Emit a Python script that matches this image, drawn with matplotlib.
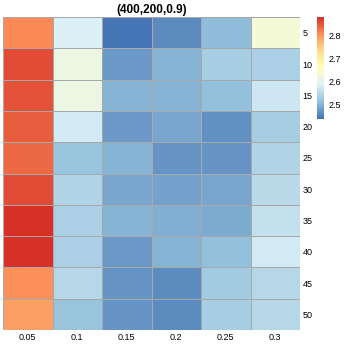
import numpy as np
import matplotlib
matplotlib.use('Agg')
import matplotlib.pyplot as plt
from matplotlib.colors import LinearSegmentedColormap

plt.rcParams['font.family'] = ['Liberation Sans', 'DejaVu Sans']

# data
col_labels = ['0.05', '0.1', '0.15', '0.2', '0.25', '0.3']
row_labels = ['5', '10', '15', '20', '25', '30', '35', '40', '45', '50']
values = np.array([
    [2.810, 2.582, 2.435, 2.460, 2.510, 2.630],
    [2.860, 2.610, 2.475, 2.500, 2.530, 2.535],
    [2.855, 2.610, 2.500, 2.500, 2.515, 2.565],
    [2.845, 2.570, 2.475, 2.485, 2.465, 2.530],
    [2.835, 2.518, 2.498, 2.470, 2.470, 2.540],
    [2.858, 2.540, 2.487, 2.480, 2.487, 2.548],
    [2.880, 2.535, 2.500, 2.495, 2.493, 2.560],
    [2.883, 2.535, 2.475, 2.500, 2.515, 2.570],
    [2.805, 2.545, 2.470, 2.460, 2.527, 2.545],
    [2.790, 2.517, 2.467, 2.458, 2.532, 2.545],
])
title = '(400,200,0.9)'
cbar_ticks = [2.5, 2.6, 2.7, 2.8]

palette = ['#4575B4', '#91BFDB', '#E0F3F8', '#FFFFBF', '#FEE090', '#FC8D59', '#D73027']
cmap = LinearSegmentedColormap.from_list('rdylbu', palette, N=100)
vmin, vmax = values.min(), values.max()

fig = plt.figure(figsize=(3.45, 3.45), dpi=100)
ax = fig.add_axes([0.0087, 0.0435, 0.861, 0.907])

mesh = ax.pcolormesh(values, cmap=cmap, vmin=vmin, vmax=vmax,
                     edgecolors='#A8A8A8', linewidth=0.6)
ax.set_xlim(0, len(col_labels))
ax.set_ylim(len(row_labels), 0)
for s in ax.spines.values():
    s.set_visible(False)

ax.set_xticks(np.arange(len(col_labels)) + 0.5)
ax.set_xticklabels(col_labels, fontsize=6.5)
ax.set_yticks(np.arange(len(row_labels)) + 0.5)
ax.set_yticklabels(row_labels, fontsize=6.5)
ax.yaxis.tick_right()
ax.tick_params(length=0, pad=2)
ax.set_title(title, fontsize=8.5, fontweight='bold', pad=3)

# legend bar
cax = fig.add_axes([0.919, 0.655, 0.0203, 0.296])
cb = fig.colorbar(mesh, cax=cax, ticks=cbar_ticks)
cb.outline.set_visible(False)
cax.tick_params(length=0, labelsize=6.5, pad=3)

fig.savefig('out.png', dpi=100)
